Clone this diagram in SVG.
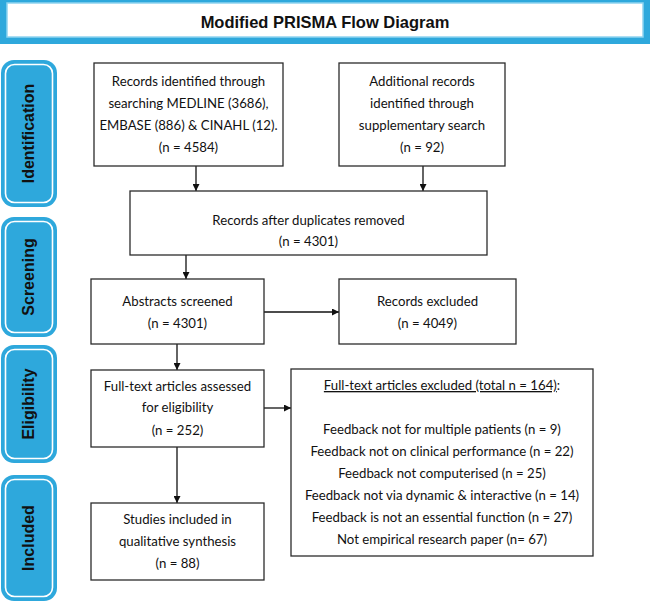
<svg xmlns="http://www.w3.org/2000/svg" width="650" height="608" viewBox="0 0 650 608">
<defs>
<style>
.box{fill:#fff;stroke:#2b2b2b;stroke-width:1.3}
.t{font-family:Lato,"Liberation Sans",sans-serif;font-size:13.2px;fill:#111;text-anchor:middle}
.side{fill:#2ea8dc}
.sidein{fill:#2ea8dc;stroke:#fff;stroke-width:1.6}
.sl{font-family:"Liberation Sans",Arial,sans-serif;font-size:16px;font-weight:bold;fill:#111;text-anchor:middle;dominant-baseline:central}
.c{stroke:#111;stroke-width:1.3;fill:none;marker-end:url(#ah)}
</style>
<marker id="ah" viewBox="0 0 10 10" refX="10" refY="5" markerWidth="7" markerHeight="7" markerUnits="userSpaceOnUse" orient="auto">
<path d="M0,0 L10,5 L0,10 z" fill="#111"/>
</marker>
</defs>
<rect width="650" height="608" fill="#fff"/>
<g id="title">
<rect x="0" y="0" width="650" height="44" fill="#2ea8dc"/>
<rect x="7" y="3" width="636" height="34" fill="#fff" stroke="#8fd3f0" stroke-width="1.5"/>
<text x="325" y="28" style="font-family:'Liberation Sans',Arial,sans-serif;font-size:16.5px;font-weight:bold;fill:#111;text-anchor:middle">Modified PRISMA Flow Diagram</text>
</g>
<g id="stage-identification">
<rect class="side" x="1" y="60" width="56" height="147" rx="13"/>
<rect class="sidein" x="5.5" y="64.5" width="47" height="138" rx="9"/>
<text class="sl" transform="translate(28.5,133.5) rotate(-90)">Identification</text>
</g>
<g id="stage-screening">
<rect class="side" x="1" y="217" width="56" height="120" rx="13"/>
<rect class="sidein" x="5.5" y="221.5" width="47" height="111" rx="9"/>
<text class="sl" transform="translate(28.5,277) rotate(-90)">Screening</text>
</g>
<g id="stage-eligibility">
<rect class="side" x="1" y="345" width="56" height="118" rx="13"/>
<rect class="sidein" x="5.5" y="349.5" width="47" height="109" rx="9"/>
<text class="sl" transform="translate(28.5,404) rotate(-90)">Eligibility</text>
</g>
<g id="stage-included">
<rect class="side" x="1" y="475" width="56" height="126" rx="13"/>
<rect class="sidein" x="5.5" y="479.5" width="47" height="117" rx="9"/>
<text class="sl" transform="translate(28.5,538) rotate(-90)">Included</text>
</g>
<g id="connectors">
<line class="c" x1="196" y1="166" x2="196" y2="191"/>
<line class="c" x1="423" y1="166" x2="423" y2="191"/>
<line class="c" x1="186" y1="255" x2="186" y2="279"/>
<line class="c" x1="264" y1="312" x2="339" y2="312"/>
<line class="c" x1="177" y1="344" x2="177" y2="370"/>
<line class="c" x1="264" y1="408" x2="291" y2="408"/>
<line class="c" x1="177" y1="447" x2="177" y2="503"/>
</g>
<g id="records-identified">
<rect class="box" x="94" y="63" width="189" height="103"/>
<text class="t" x="188.5" y="86">Records identified through</text>
<text class="t" x="188.5" y="108">searching MEDLINE (3686),</text>
<text class="t" x="188.5" y="130">EMBASE (886) &amp; CINAHL (12).</text>
<text class="t" x="188.5" y="152">(n = 4584)</text>
</g>
<g id="additional-records">
<rect class="box" x="339" y="63" width="166" height="103"/>
<text class="t" x="422" y="86">Additional records</text>
<text class="t" x="422" y="108">identified through</text>
<text class="t" x="422" y="130">supplementary search</text>
<text class="t" x="422" y="152">(n = 92)</text>
</g>
<g id="duplicates-removed">
<rect class="box" x="130" y="191" width="357" height="64"/>
<text class="t" x="308.5" y="225">Records after duplicates removed</text>
<text class="t" x="308.5" y="246">(n = 4301)</text>
</g>
<g id="abstracts-screened">
<rect class="box" x="91" y="279" width="173" height="65"/>
<text class="t" x="177.5" y="306">Abstracts screened</text>
<text class="t" x="177.5" y="328">(n = 4301)</text>
</g>
<g id="records-excluded">
<rect class="box" x="339" y="279" width="177" height="65"/>
<text class="t" x="427.5" y="306">Records excluded</text>
<text class="t" x="427.5" y="328">(n = 4049)</text>
</g>
<g id="fulltext-assessed">
<rect class="box" x="91" y="370" width="173" height="77"/>
<text class="t" x="177.5" y="391">Full-text articles assessed</text>
<text class="t" x="177.5" y="412">for eligibility</text>
<text class="t" x="177.5" y="435">(n = 252)</text>
</g>
<g id="fulltext-excluded">
<rect class="box" x="291" y="369" width="302" height="187"/>
<text class="t" x="442" y="390"><tspan text-decoration="underline">Full-text articles excluded (total n = 164)</tspan>:</text>
<text class="t" x="442" y="434">Feedback not for multiple patients (n = 9)</text>
<text class="t" x="442" y="456">Feedback not on clinical performance (n = 22)</text>
<text class="t" x="442" y="478">Feedback not computerised (n = 25)</text>
<text class="t" x="442" y="500">Feedback not via dynamic &amp; interactive (n = 14)</text>
<text class="t" x="442" y="522">Feedback is not an essential function (n = 27)</text>
<text class="t" x="442" y="544">Not empirical research paper (n= 67)</text>
</g>
<g id="studies-included">
<rect class="box" x="91" y="503" width="173" height="77"/>
<text class="t" x="177.5" y="524">Studies included in</text>
<text class="t" x="177.5" y="546">qualitative synthesis</text>
<text class="t" x="177.5" y="568">(n = 88)</text>
</g>
</svg>
